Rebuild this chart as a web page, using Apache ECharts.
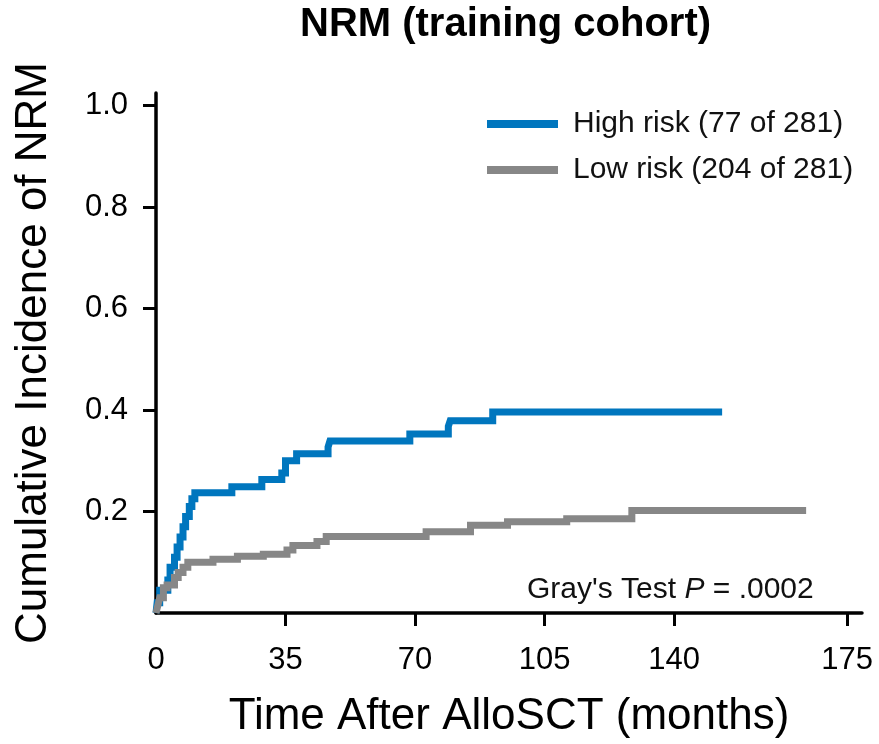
<!DOCTYPE html>
<html>
<head>
<meta charset="utf-8">
<title>NRM (training cohort)</title>
<script src="https://cdn.jsdelivr.net/npm/echarts@6/dist/echarts.min.js"></script>
<style>
  html, body { margin: 0; padding: 0; background: #fff; }
  #chart { width: 879px; height: 744px; }
</style>
</head>
<body>
<div id="chart"></div>
<script>
// months after alloSCT, cumulative incidence (step curves)
var highRiskTime = [0, 0.3, 1, 3.2, 3.8, 5, 5.7, 6.5, 7.3, 8, 9, 9.7, 10.5, 20.5, 28.6, 34, 35, 38, 46.5, 47, 68.6, 79, 79.5, 91, 153];
var highRiskCif  = [0, 0.02, 0.045, 0.065, 0.09, 0.11, 0.13, 0.15, 0.17, 0.19, 0.21, 0.225, 0.237, 0.249, 0.263, 0.276, 0.3, 0.314, 0.327, 0.339, 0.353, 0.368, 0.379, 0.396, 0.396];

var lowRiskTime = [0, 0.5, 1, 2, 3, 5, 6, 7.3, 8.6, 15.4, 22, 29, 35.4, 37, 43.5, 46, 73, 85, 95, 111, 128.6, 175.7];
var lowRiskCif  = [0, 0.015, 0.03, 0.05, 0.055, 0.07, 0.08, 0.09, 0.1, 0.106, 0.112, 0.116, 0.124, 0.133, 0.141, 0.151, 0.16, 0.173, 0.18, 0.186, 0.202, 0.202];

var xTickLabels = [0, 35, 70, 105, 140, 175];
var xTickPos    = [0, 35, 70, 105, 140, 186.8]; // last tick sits at the end of the axis in the original
var yTickLabels = [0.2, 0.4, 0.6, 0.8, 1.0];

var seriesNames = ['High risk (77 of 281)', 'Low risk (204 of 281)'];
var seriesColors = ['#0076be', '#878787'];

function zip(xs, ys) {
  var out = [];
  for (var i = 0; i < xs.length; i++) out.push([xs[i], ys[i]]);
  return out;
}

var FONT = '"Liberation Sans", Arial, sans-serif';
var chart = echarts.init(document.getElementById('chart'));

var option = {
  backgroundColor: '#fff',
  animation: false,
  title: {
    text: 'NRM (training cohort)',
    left: 300,
    top: 5,
    padding: 0,
    textStyle: { fontFamily: FONT, fontWeight: 'bold', fontSize: 40, color: '#000' }
  },
  legend: {
    orient: 'vertical',
    left: 487,
    top: 109,
    padding: 0,
    icon: 'rect',
    itemWidth: 71,
    itemHeight: 8,
    itemGap: 16,
    data: seriesNames,
    textStyle: { fontFamily: FONT, fontSize: 30, color: '#111', lineHeight: 30, padding: [0, 0, 0, 10] }
  },
  grid: { left: 156, right: 17, top: 93, bottom: 128 },
  xAxis: {
    type: 'value',
    min: 0,
    max: 190.8,
    name: 'Time After AlloSCT (months)',
    nameLocation: 'middle',
    nameGap: 82,
    nameTextStyle: { fontFamily: FONT, fontSize: 44, color: '#000' },
    axisLine: { lineStyle: { color: '#000', width: 3.5 } },
    axisTick: { customValues: xTickPos.slice(1), length: 13, lineStyle: { color: '#000', width: 3 } },
    axisLabel: {
      customValues: xTickPos,
      margin: 32,
      fontFamily: FONT,
      fontSize: 31,
      color: '#000',
      formatter: function (v) {
        var i = xTickPos.indexOf(v);
        return i >= 0 ? String(xTickLabels[i]) : '';
      }
    },
    splitLine: { show: false }
  },
  yAxis: {
    type: 'value',
    min: 0,
    max: 1.025,
    name: 'Cumulative Incidence of NRM',
    nameLocation: 'middle',
    nameGap: 100,
    nameTextStyle: { fontFamily: FONT, fontSize: 44, color: '#000' },
    axisLine: { lineStyle: { color: '#000', width: 3.5 } },
    axisTick: { customValues: yTickLabels, length: 13, lineStyle: { color: '#000', width: 3 } },
    axisLabel: {
      customValues: yTickLabels,
      margin: 28,
      fontFamily: FONT,
      fontSize: 31,
      color: '#000',
      formatter: function (v) { return v.toFixed(1); }
    },
    splitLine: { show: false }
  },
  graphic: [{
    type: 'text',
    left: 527,
    top: 575,
    style: {
      text: "Gray's Test {i|P} = .0002",
      fontFamily: FONT,
      fontSize: 30,
      fill: '#111',
      rich: { i: { fontFamily: FONT, fontSize: 30, fontStyle: 'italic', fill: '#111' } }
    }
  }],
  series: [
    {
      name: seriesNames[0],
      type: 'line',
      step: 'end',
      showSymbol: false,
      color: seriesColors[0],
      lineStyle: { width: 7, cap: 'butt', join: 'miter' },
      data: zip(highRiskTime, highRiskCif)
    },
    {
      name: seriesNames[1],
      type: 'line',
      step: 'end',
      showSymbol: false,
      color: seriesColors[1],
      lineStyle: { width: 7, cap: 'butt', join: 'miter' },
      data: zip(lowRiskTime, lowRiskCif)
    }
  ]
};

chart.setOption(option);
</script>
</body>
</html>
